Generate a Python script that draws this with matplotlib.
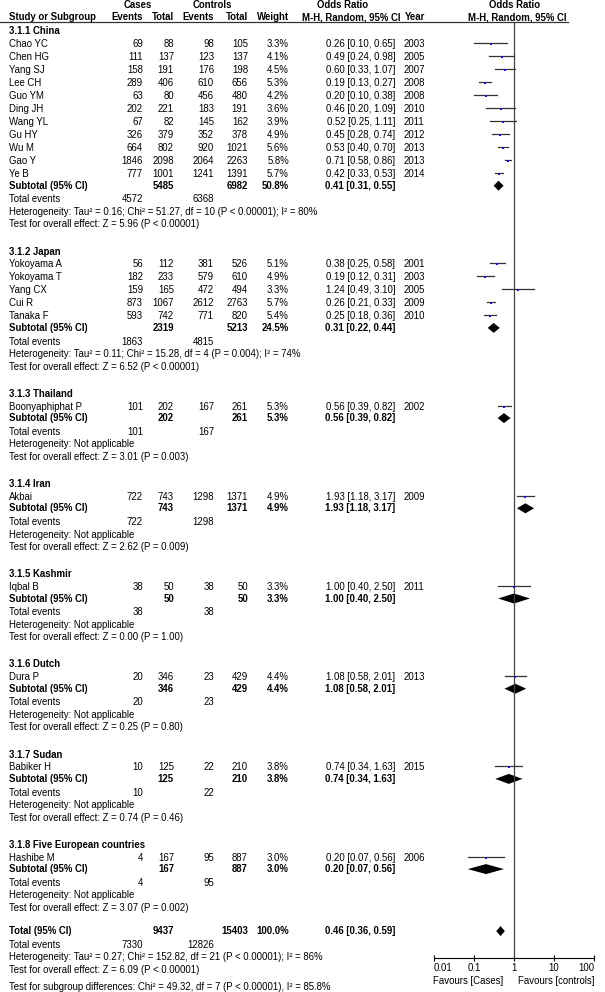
import numpy as np
import matplotlib.pyplot as plt
from matplotlib.ticker import NullLocator

plt.rcParams['font.family'] = ['Liberation Sans', 'DejaVu Sans']

# subgroups
group_names = ['3.1.1 China', '3.1.2 Japan', '3.1.3 Thailand', '3.1.4 Iran',
               '3.1.5 Kashmir', '3.1.6 Dutch', '3.1.7 Sudan',
               '3.1.8 Five European countries']

# studies
study_names = ['Chao YC', 'Chen HG', 'Yang SJ', 'Lee CH', 'Guo YM', 'Ding JH', 'Wang YL',
               'Gu HY', 'Wu M', 'Gao Y', 'Ye B',
               'Yokoyama A', 'Yokoyama T', 'Yang CX', 'Cui R', 'Tanaka F',
               'Boonyaphiphat P', 'Akbai', 'Iqbal B', 'Dura P', 'Babiker H', 'Hashibe M']
study_group = [0]*11 + [1]*5 + [2, 3, 4, 5, 6, 7]
case_events = [69, 111, 158, 289, 63, 202, 67, 326, 664, 1846, 777,
               56, 182, 159, 873, 593, 101, 722, 38, 20, 10, 4]
case_totals = [88, 137, 191, 406, 80, 221, 82, 379, 802, 2098, 1001,
               112, 233, 165, 1067, 742, 202, 743, 50, 346, 125, 167]
ctrl_events = [98, 123, 176, 610, 456, 183, 145, 352, 920, 2064, 1241,
               381, 579, 472, 2612, 771, 167, 1298, 38, 23, 22, 95]
ctrl_totals = [105, 137, 198, 656, 480, 191, 162, 378, 1021, 2263, 1391,
               526, 610, 494, 2763, 820, 261, 1371, 50, 429, 210, 887]
weights = [3.3, 4.1, 4.5, 5.3, 4.2, 3.6, 3.9, 4.9, 5.6, 5.8, 5.7,
           5.1, 4.9, 3.3, 5.7, 5.4, 5.3, 4.9, 3.3, 4.4, 3.8, 3.0]
or_vals = [0.26, 0.49, 0.60, 0.19, 0.20, 0.46, 0.52, 0.45, 0.53, 0.71, 0.42,
           0.38, 0.19, 1.24, 0.26, 0.25, 0.56, 1.93, 1.00, 1.08, 0.74, 0.20]
ci_lo = [0.10, 0.24, 0.33, 0.13, 0.10, 0.20, 0.25, 0.28, 0.40, 0.58, 0.33,
         0.25, 0.12, 0.49, 0.21, 0.18, 0.39, 1.18, 0.40, 0.58, 0.34, 0.07]
ci_hi = [0.65, 0.98, 1.07, 0.27, 0.38, 1.09, 1.11, 0.74, 0.70, 0.86, 0.53,
         0.58, 0.31, 3.10, 0.33, 0.36, 0.82, 3.17, 2.50, 2.01, 1.63, 0.56]
years = [2003, 2005, 2007, 2008, 2008, 2010, 2011, 2012, 2013, 2013, 2014,
         2001, 2003, 2005, 2009, 2010, 2002, 2009, 2011, 2013, 2015, 2006]

# subtotals
sub_case_tot = [5485, 2319, 202, 743, 50, 346, 125, 167]
sub_ctrl_tot = [6982, 5213, 261, 1371, 50, 429, 210, 887]
sub_weight = [50.8, 24.5, 5.3, 4.9, 3.3, 4.4, 3.8, 3.0]
sub_or = [0.41, 0.31, 0.56, 1.93, 1.00, 1.08, 0.74, 0.20]
sub_lo = [0.31, 0.22, 0.39, 1.18, 0.40, 0.58, 0.34, 0.07]
sub_hi = [0.55, 0.44, 0.82, 3.17, 2.50, 2.01, 1.63, 0.56]
sub_case_ev = [4572, 1863, 101, 722, 38, 20, 10, 4]
sub_ctrl_ev = [6368, 4815, 167, 1298, 38, 23, 22, 95]
sub_het = ['Tau² = 0.16; Chi² = 51.27, df = 10 (P < 0.00001); I² = 80%',
           'Tau² = 0.11; Chi² = 15.28, df = 4 (P = 0.004); I² = 74%'] + ['Not applicable']*6
sub_test = ['Z = 5.96 (P < 0.00001)', 'Z = 6.52 (P < 0.00001)', 'Z = 3.01 (P = 0.003)',
            'Z = 2.62 (P = 0.009)', 'Z = 0.00 (P = 1.00)', 'Z = 0.25 (P = 0.80)',
            'Z = 0.74 (P = 0.46)', 'Z = 3.07 (P = 0.002)']

# overall
tot_case, tot_ctrl, tot_weight = 9437, 15403, 100.0
tot_or, tot_lo, tot_hi = 0.46, 0.36, 0.59
tot_case_ev, tot_ctrl_ev = 7330, 12826
tot_het = 'Tau² = 0.27; Chi² = 152.82, df = 21 (P < 0.00001); I² = 86%'
tot_test = 'Z = 6.09 (P < 0.00001)'
sub_diff = 'Chi² = 49.32, df = 7 (P < 0.00001), I² = 85.8%'

or_ticks = [0.01, 0.1, 1, 10, 100]
or_ticklabels = ['0.01', '0.1', '1', '10', '100']

FS = 6.9
# column positions (px)
X_NAME, X_CE, X_CT, X_KE, X_KT, X_W, X_OR, X_YR = 9, 143, 174, 214, 248, 289, 361, 404

fig = plt.figure(figsize=(6.05, 9.92), dpi=100)
ax = fig.add_axes([0, 0, 1, 1])
ax.set_xlim(0, 605)
ax.set_ylim(992, 0)
ax.axis('off')

fx = fig.add_axes([434/605, 0, 160/605, 1])
fx.set_xscale('log')
fx.set_xlim(0.01, 100)
fx.set_ylim(992, 0)
fx.patch.set_alpha(0)
for s in ['top', 'left', 'right']:
    fx.spines[s].set_visible(False)
fx.spines['bottom'].set_position(('data', 958))
fx.spines['bottom'].set_linewidth(0.8)
fx.set_yticks([])
fx.set_xticks(or_ticks)
fx.set_xticklabels(or_ticklabels)
fx.xaxis.set_minor_locator(NullLocator())
fx.tick_params(axis='x', direction='inout', length=4, width=0.8, labelsize=FS, pad=1.5)
tl = fx.get_xticklabels()
tl[0].set_ha('left')
tl[-1].set_ha('right')


def t(x, y, s, ha='left', bold=False):
    ax.text(x, y, s, ha=ha, va='center', fontsize=FS,
            fontweight='bold' if bold else 'normal')


# header
t(138, 5, 'Cases', 'center', True)
t(212, 5, 'Controls', 'center', True)
t(343, 5, 'Odds Ratio', 'center', True)
t(515, 5, 'Odds Ratio', 'center', True)
t(X_NAME, 17, 'Study or Subgroup', bold=True)
t(X_CE, 17, 'Events', 'right', True)
t(X_CT, 17, 'Total', 'right', True)
t(X_KE, 17, 'Events', 'right', True)
t(X_KT, 17, 'Total', 'right', True)
t(X_W, 17, 'Weight', 'right', True)
t(401, 17, 'M-H, Random, 95% CI', 'right', True)
t(X_YR + 1, 17, 'Year', bold=True)
t(517, 17, 'M-H, Random, 95% CI', 'center', True)
ax.plot([0, 568], [21.5, 21.5], color='#333333', lw=0.9)

fx.plot([1, 1], [21.5, 958], color='#444444', lw=0.9)


def diamond(y, o, lo, hi, h=5):
    fx.fill([lo, o, hi, o], [y, y - h, y, y + h], color='black', lw=0)


y = 31.5
for g, gname in enumerate(group_names):
    t(X_NAME, y, gname, bold=True)
    idx = [i for i in range(len(study_names)) if study_group[i] == g]
    for k, i in enumerate(idx):
        y += 12.7 if k == 0 else 13.0
        t(X_NAME, y, study_names[i])
        t(X_CE, y, str(case_events[i]), 'right')
        t(X_CT, y, str(case_totals[i]), 'right')
        t(X_KE, y, str(ctrl_events[i]), 'right')
        t(X_KT, y, str(ctrl_totals[i]), 'right')
        t(X_W, y, '%.1f%%' % weights[i], 'right')
        t(X_OR, y, '%.2f [%.2f, %.2f]' % (or_vals[i], ci_lo[i], ci_hi[i]), 'center')
        t(X_YR, y, str(years[i]))
        fx.plot([ci_lo[i], ci_hi[i]], [y - 1, y - 1], color='#333333', lw=0.9)
        fx.plot([or_vals[i]], [y], 's', ms=1.8, color='#1010e0', mew=0)
    y += 11.5
    t(X_NAME, y, 'Subtotal (95% CI)', bold=True)
    t(X_CT, y, str(sub_case_tot[g]), 'right', True)
    t(X_KT, y, str(sub_ctrl_tot[g]), 'right', True)
    t(X_W, y, '%.1f%%' % sub_weight[g], 'right', True)
    t(X_OR - 1, y, '%.2f [%.2f, %.2f]' % (sub_or[g], sub_lo[g], sub_hi[g]), 'center', True)
    diamond(y, sub_or[g], sub_lo[g], sub_hi[g])
    y += 13.8
    t(X_NAME, y, 'Total events')
    t(X_CE, y, str(sub_case_ev[g]), 'right')
    t(X_KE, y, str(sub_ctrl_ev[g]), 'right')
    y += 12.5
    t(X_NAME, y, 'Heterogeneity: ' + sub_het[g])
    y += 12.4
    t(X_NAME, y, 'Test for overall effect: ' + sub_test[g])
    y += 27.3

y -= 4
t(X_NAME, y, 'Total (95% CI)', bold=True)
t(X_CT, y, str(tot_case), 'right', True)
t(X_KT, y, str(tot_ctrl), 'right', True)
t(X_W, y, '%.1f%%' % tot_weight, 'right', True)
t(X_OR - 1, y, '%.2f [%.2f, %.2f]' % (tot_or, tot_lo, tot_hi), 'center', True)
diamond(y, tot_or, tot_lo, tot_hi)
y += 13.5
t(X_NAME, y, 'Total events')
t(X_CE, y, str(tot_case_ev), 'right')
t(X_KE, y, str(tot_ctrl_ev), 'right')
y += 12.5
t(X_NAME, y, 'Heterogeneity: ' + tot_het)
y += 12.5
t(X_NAME, y, 'Test for overall effect: ' + tot_test)
y += 17
t(X_NAME, y, 'Test for subgroup differences: ' + sub_diff)

t(503, 981, 'Favours [Cases]', 'right')
t(518, 981, 'Favours [controls]')

fig.savefig('out.png', dpi=100)
